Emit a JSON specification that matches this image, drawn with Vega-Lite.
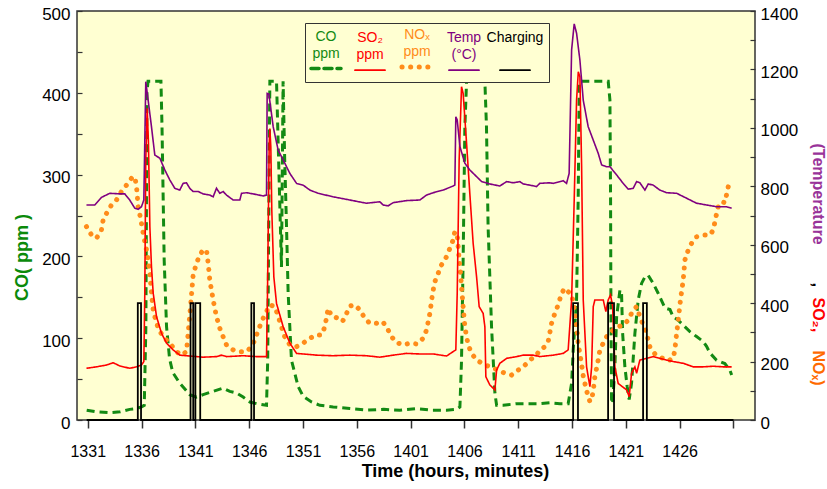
{
  "$schema": "https://vega.github.io/schema/vega-lite/v6.json",
  "width": 678,
  "height": 409,
  "autosize": {"type": "none"},
  "padding": {"left": 77, "top": 11, "right": 72, "bottom": 69},
  "background": "white",
  "config": {
    "view": {"fill": "#FFFFD2", "stroke": "#333333", "strokeWidth": 1.5},
    "axis": {"grid": false, "domain": false, "labelFont": "Liberation Sans Narrow, Liberation Sans", "labelFontSize": 17, "labelColor": "black", "tickColor": "#333333", "titleFont": "Liberation Sans Narrow, Liberation Sans", "titleFontWeight": "bold", "titleFontSize": 18, "labelFlush": false, "labelOverlap": false}
  },
  "datasets": {
    "rows": [
      {"s":"CO","t":0.9,"v":12},{"s":"CO","t":1.8,"v":10},{"s":"CO","t":3.0,"v":9},{"s":"CO","t":4.0,"v":10},{"s":"CO","t":4.9,"v":13},{"s":"CO","t":5.5,"v":14},{"s":"CO","t":6.0,"v":16},{"s":"CO","t":6.25,"v":18},{"s":"CO","t":6.4,"v":114},{"s":"CO","t":6.5,"v":400},{"s":"CO","t":6.6,"v":414},{"s":"CO","t":7.8,"v":414},{"s":"CO","t":7.9,"v":358},{"s":"CO","t":8.0,"v":277},{"s":"CO","t":8.1,"v":196},{"s":"CO","t":8.32,"v":114},{"s":"CO","t":8.6,"v":75},{"s":"CO","t":8.9,"v":58},{"s":"CO","t":9.55,"v":45},{"s":"CO","t":10.48,"v":31},{"s":"CO","t":11.1,"v":28},{"s":"CO","t":11.72,"v":31},{"s":"CO","t":12.65,"v":35},{"s":"CO","t":13.58,"v":39},{"s":"CO","t":14.2,"v":35},{"s":"CO","t":14.82,"v":33},{"s":"CO","t":15.44,"v":28},{"s":"CO","t":16.06,"v":22},{"s":"CO","t":16.68,"v":20},{"s":"CO","t":17.61,"v":18},{"s":"CO","t":17.72,"v":73},{"s":"CO","t":17.85,"v":300},{"s":"CO","t":17.92,"v":414},{"s":"CO","t":18.54,"v":414},{"s":"CO","t":19.0,"v":187},{"s":"CO","t":19.15,"v":414},{"s":"CO","t":19.3,"v":318},{"s":"CO","t":19.47,"v":236},{"s":"CO","t":19.62,"v":155},{"s":"CO","t":19.93,"v":73},{"s":"CO","t":20.55,"v":41},{"s":"CO","t":21.01,"v":29},{"s":"CO","t":21.79,"v":22},{"s":"CO","t":22.57,"v":18},{"s":"CO","t":23.8,"v":16},{"s":"CO","t":25.35,"v":14},{"s":"CO","t":26.9,"v":12},{"s":"CO","t":28.5,"v":13},{"s":"CO","t":30.0,"v":12},{"s":"CO","t":31.55,"v":14},{"s":"CO","t":33.0,"v":12},{"s":"CO","t":34.34,"v":12},{"s":"CO","t":35.27,"v":13},{"s":"CO","t":35.58,"v":16},{"s":"CO","t":35.73,"v":73},{"s":"CO","t":35.88,"v":196},{"s":"CO","t":36.04,"v":358},{"s":"CO","t":36.2,"v":414},{"s":"CO","t":37.9,"v":414},{"s":"CO","t":38.05,"v":358},{"s":"CO","t":38.2,"v":236},{"s":"CO","t":38.52,"v":114},{"s":"CO","t":38.83,"v":33},{"s":"CO","t":38.99,"v":18},{"s":"CO","t":39.6,"v":18},{"s":"CO","t":40.85,"v":20},{"s":"CO","t":42.39,"v":20},{"s":"CO","t":43.0,"v":20},{"s":"CO","t":43.94,"v":21},{"s":"CO","t":44.87,"v":20},{"s":"CO","t":45.64,"v":20},{"s":"CO","t":45.96,"v":45},{"s":"CO","t":46.11,"v":86},{"s":"CO","t":46.42,"v":147},{"s":"CO","t":46.57,"v":269},{"s":"CO","t":46.67,"v":412},{"s":"CO","t":46.73,"v":414},{"s":"CO","t":49.36,"v":414},{"s":"CO","t":49.52,"v":391},{"s":"CO","t":49.58,"v":269},{"s":"CO","t":49.61,"v":147},{"s":"CO","t":49.67,"v":25},{"s":"CO","t":49.77,"v":20},{"s":"CO","t":49.98,"v":65},{"s":"CO","t":50.14,"v":126},{"s":"CO","t":50.45,"v":159},{"s":"CO","t":50.6,"v":155},{"s":"CO","t":50.7,"v":106},{"s":"CO","t":50.91,"v":65},{"s":"CO","t":51.12,"v":41},{"s":"CO","t":51.31,"v":25},{"s":"CO","t":51.53,"v":45},{"s":"CO","t":51.84,"v":106},{"s":"CO","t":52.15,"v":147},{"s":"CO","t":52.46,"v":167},{"s":"CO","t":52.77,"v":175},{"s":"CO","t":53.07,"v":177},{"s":"CO","t":53.54,"v":167},{"s":"CO","t":54.0,"v":155},{"s":"CO","t":54.63,"v":137},{"s":"CO","t":55.1,"v":135},{"s":"CO","t":55.4,"v":126},{"s":"CO","t":55.86,"v":122},{"s":"CO","t":56.33,"v":116},{"s":"CO","t":56.95,"v":108},{"s":"CO","t":57.57,"v":102},{"s":"CO","t":58.19,"v":96},{"s":"CO","t":58.5,"v":90},{"s":"CO","t":58.81,"v":82},{"s":"CO","t":59.43,"v":73},{"s":"CO","t":60.2,"v":69},{"s":"CO","t":60.67,"v":61},{"s":"CO","t":60.83,"v":55},
      {"s":"SO2","t":0.88,"v":177},{"s":"SO2","t":1.81,"v":182},{"s":"SO2","t":2.74,"v":188},{"s":"SO2","t":3.36,"v":196},{"s":"SO2","t":3.98,"v":185},{"s":"SO2","t":4.9,"v":177},{"s":"SO2","t":5.53,"v":182},{"s":"SO2","t":5.99,"v":188},{"s":"SO2","t":6.21,"v":200},{"s":"SO2","t":6.3,"v":434},{"s":"SO2","t":6.39,"v":890},{"s":"SO2","t":6.52,"v":1067},{"s":"SO2","t":6.64,"v":947},{"s":"SO2","t":6.77,"v":662},{"s":"SO2","t":6.92,"v":525},{"s":"SO2","t":7.08,"v":434},{"s":"SO2","t":7.39,"v":354},{"s":"SO2","t":7.85,"v":297},{"s":"SO2","t":8.32,"v":263},{"s":"SO2","t":8.93,"v":240},{"s":"SO2","t":9.55,"v":222},{"s":"SO2","t":10.48,"v":219},{"s":"SO2","t":11.72,"v":215},{"s":"SO2","t":12.96,"v":217},{"s":"SO2","t":13.43,"v":222},{"s":"SO2","t":13.89,"v":217},{"s":"SO2","t":15.44,"v":220},{"s":"SO2","t":16.68,"v":217},{"s":"SO2","t":17.61,"v":217},{"s":"SO2","t":17.7,"v":434},{"s":"SO2","t":17.86,"v":947},{"s":"SO2","t":17.92,"v":998},{"s":"SO2","t":18.01,"v":936},{"s":"SO2","t":18.1,"v":719},{"s":"SO2","t":18.29,"v":490},{"s":"SO2","t":18.54,"v":399},{"s":"SO2","t":19.16,"v":319},{"s":"SO2","t":19.78,"v":263},{"s":"SO2","t":20.4,"v":228},{"s":"SO2","t":21.01,"v":226},{"s":"SO2","t":22.26,"v":222},{"s":"SO2","t":23.8,"v":220},{"s":"SO2","t":25.35,"v":222},{"s":"SO2","t":26.9,"v":220},{"s":"SO2","t":28.14,"v":215},{"s":"SO2","t":29.38,"v":222},{"s":"SO2","t":30.62,"v":228},{"s":"SO2","t":31.86,"v":226},{"s":"SO2","t":33.1,"v":226},{"s":"SO2","t":34.34,"v":219},{"s":"SO2","t":34.95,"v":234},{"s":"SO2","t":35.2,"v":240},{"s":"SO2","t":35.33,"v":434},{"s":"SO2","t":35.51,"v":890},{"s":"SO2","t":35.73,"v":1141},{"s":"SO2","t":35.88,"v":1118},{"s":"SO2","t":36.2,"v":947},{"s":"SO2","t":36.5,"v":776},{"s":"SO2","t":36.81,"v":605},{"s":"SO2","t":37.13,"v":490},{"s":"SO2","t":37.37,"v":388},{"s":"SO2","t":37.74,"v":365},{"s":"SO2","t":37.9,"v":319},{"s":"SO2","t":37.99,"v":148},{"s":"SO2","t":38.36,"v":120},{"s":"SO2","t":38.83,"v":103},{"s":"SO2","t":38.99,"v":171},{"s":"SO2","t":39.29,"v":194},{"s":"SO2","t":39.92,"v":211},{"s":"SO2","t":40.85,"v":217},{"s":"SO2","t":41.46,"v":222},{"s":"SO2","t":42.39,"v":222},{"s":"SO2","t":43.0,"v":217},{"s":"SO2","t":44.25,"v":222},{"s":"SO2","t":45.18,"v":228},{"s":"SO2","t":45.64,"v":240},{"s":"SO2","t":45.96,"v":411},{"s":"SO2","t":46.2,"v":753},{"s":"SO2","t":46.42,"v":1095},{"s":"SO2","t":46.58,"v":1192},{"s":"SO2","t":46.73,"v":1175},{"s":"SO2","t":46.89,"v":867},{"s":"SO2","t":47.04,"v":411},{"s":"SO2","t":47.35,"v":182},{"s":"SO2","t":47.66,"v":114},{"s":"SO2","t":47.82,"v":182},{"s":"SO2","t":47.97,"v":388},{"s":"SO2","t":48.12,"v":411},{"s":"SO2","t":48.9,"v":411},{"s":"SO2","t":49.14,"v":371},{"s":"SO2","t":49.36,"v":411},{"s":"SO2","t":49.58,"v":428},{"s":"SO2","t":49.77,"v":388},{"s":"SO2","t":49.98,"v":182},{"s":"SO2","t":50.29,"v":125},{"s":"SO2","t":51.07,"v":103},{"s":"SO2","t":51.31,"v":80},{"s":"SO2","t":51.53,"v":160},{"s":"SO2","t":51.84,"v":182},{"s":"SO2","t":52.0,"v":160},{"s":"SO2","t":52.3,"v":205},{"s":"SO2","t":52.93,"v":211},{"s":"SO2","t":53.54,"v":217},{"s":"SO2","t":54.16,"v":211},{"s":"SO2","t":54.79,"v":205},{"s":"SO2","t":55.41,"v":200},{"s":"SO2","t":56.34,"v":194},{"s":"SO2","t":57.26,"v":182},{"s":"SO2","t":58.19,"v":182},{"s":"SO2","t":59.12,"v":184},{"s":"SO2","t":60.05,"v":182},{"s":"SO2","t":60.83,"v":182},
      {"s":"NOx","t":0.88,"v":662},{"s":"NOx","t":1.35,"v":633},{"s":"NOx","t":1.81,"v":622},{"s":"NOx","t":2.27,"v":650},{"s":"NOx","t":2.43,"v":685},{"s":"NOx","t":2.74,"v":707},{"s":"NOx","t":3.2,"v":736},{"s":"NOx","t":3.67,"v":753},{"s":"NOx","t":4.13,"v":782},{"s":"NOx","t":4.6,"v":804},{"s":"NOx","t":5.06,"v":827},{"s":"NOx","t":5.37,"v":833},{"s":"NOx","t":5.53,"v":799},{"s":"NOx","t":5.68,"v":730},{"s":"NOx","t":5.84,"v":702},{"s":"NOx","t":5.99,"v":673},{"s":"NOx","t":6.15,"v":639},{"s":"NOx","t":6.3,"v":610},{"s":"NOx","t":6.52,"v":571},{"s":"NOx","t":6.77,"v":502},{"s":"NOx","t":6.92,"v":434},{"s":"NOx","t":7.08,"v":377},{"s":"NOx","t":7.23,"v":354},{"s":"NOx","t":7.54,"v":314},{"s":"NOx","t":8.0,"v":285},{"s":"NOx","t":8.62,"v":263},{"s":"NOx","t":9.24,"v":234},{"s":"NOx","t":9.71,"v":222},{"s":"NOx","t":10.17,"v":234},{"s":"NOx","t":10.33,"v":297},{"s":"NOx","t":10.55,"v":388},{"s":"NOx","t":10.79,"v":496},{"s":"NOx","t":11.1,"v":536},{"s":"NOx","t":11.41,"v":565},{"s":"NOx","t":11.72,"v":582},{"s":"NOx","t":12.03,"v":582},{"s":"NOx","t":12.19,"v":536},{"s":"NOx","t":12.34,"v":479},{"s":"NOx","t":12.65,"v":411},{"s":"NOx","t":12.96,"v":354},{"s":"NOx","t":13.27,"v":314},{"s":"NOx","t":13.58,"v":285},{"s":"NOx","t":13.89,"v":257},{"s":"NOx","t":14.51,"v":240},{"s":"NOx","t":15.13,"v":234},{"s":"NOx","t":15.75,"v":234},{"s":"NOx","t":16.22,"v":251},{"s":"NOx","t":16.53,"v":274},{"s":"NOx","t":16.84,"v":308},{"s":"NOx","t":17.3,"v":348},{"s":"NOx","t":17.92,"v":394},{"s":"NOx","t":18.39,"v":388},{"s":"NOx","t":18.7,"v":354},{"s":"NOx","t":19.0,"v":319},{"s":"NOx","t":19.3,"v":285},{"s":"NOx","t":19.78,"v":257},{"s":"NOx","t":20.4,"v":251},{"s":"NOx","t":21.01,"v":263},{"s":"NOx","t":21.64,"v":280},{"s":"NOx","t":22.26,"v":291},{"s":"NOx","t":22.73,"v":291},{"s":"NOx","t":23.03,"v":319},{"s":"NOx","t":23.34,"v":382},{"s":"NOx","t":23.65,"v":356},{"s":"NOx","t":24.27,"v":348},{"s":"NOx","t":24.67,"v":337},{"s":"NOx","t":25.05,"v":365},{"s":"NOx","t":25.35,"v":390},{"s":"NOx","t":25.82,"v":394},{"s":"NOx","t":26.28,"v":377},{"s":"NOx","t":26.75,"v":348},{"s":"NOx","t":27.21,"v":331},{"s":"NOx","t":27.83,"v":331},{"s":"NOx","t":28.39,"v":337},{"s":"NOx","t":28.76,"v":319},{"s":"NOx","t":29.23,"v":285},{"s":"NOx","t":29.69,"v":265},{"s":"NOx","t":30.31,"v":257},{"s":"NOx","t":30.93,"v":263},{"s":"NOx","t":31.61,"v":260},{"s":"NOx","t":32.17,"v":280},{"s":"NOx","t":32.48,"v":308},{"s":"NOx","t":32.79,"v":365},{"s":"NOx","t":33.04,"v":434},{"s":"NOx","t":33.25,"v":473},{"s":"NOx","t":33.56,"v":502},{"s":"NOx","t":33.87,"v":531},{"s":"NOx","t":34.34,"v":559},{"s":"NOx","t":34.65,"v":588},{"s":"NOx","t":34.95,"v":616},{"s":"NOx","t":35.11,"v":645},{"s":"NOx","t":35.33,"v":633},{"s":"NOx","t":35.42,"v":593},{"s":"NOx","t":35.51,"v":548},{"s":"NOx","t":35.64,"v":502},{"s":"NOx","t":35.73,"v":456},{"s":"NOx","t":35.88,"v":388},{"s":"NOx","t":36.04,"v":319},{"s":"NOx","t":36.2,"v":285},{"s":"NOx","t":36.35,"v":257},{"s":"NOx","t":36.66,"v":228},{"s":"NOx","t":37.13,"v":205},{"s":"NOx","t":37.74,"v":192},{"s":"NOx","t":38.36,"v":182},{"s":"NOx","t":38.99,"v":173},{"s":"NOx","t":39.76,"v":160},{"s":"NOx","t":40.38,"v":154},{"s":"NOx","t":40.99,"v":171},{"s":"NOx","t":41.46,"v":182},{"s":"NOx","t":42.08,"v":205},{"s":"NOx","t":42.7,"v":222},{"s":"NOx","t":43.0,"v":240},{"s":"NOx","t":43.48,"v":251},{"s":"NOx","t":43.79,"v":270},{"s":"NOx","t":44.1,"v":331},{"s":"NOx","t":44.4,"v":365},{"s":"NOx","t":44.71,"v":394},{"s":"NOx","t":45.03,"v":434},{"s":"NOx","t":45.33,"v":451},{"s":"NOx","t":45.64,"v":439},{"s":"NOx","t":45.96,"v":430},{"s":"NOx","t":46.26,"v":370},{"s":"NOx","t":46.42,"v":320},{"s":"NOx","t":46.58,"v":260},{"s":"NOx","t":46.89,"v":190},{"s":"NOx","t":47.04,"v":150},{"s":"NOx","t":47.35,"v":100},{"s":"NOx","t":47.66,"v":63},{"s":"NOx","t":47.82,"v":70},{"s":"NOx","t":47.97,"v":100},{"s":"NOx","t":48.12,"v":148},{"s":"NOx","t":48.43,"v":205},{"s":"NOx","t":48.59,"v":240},{"s":"NOx","t":48.9,"v":263},{"s":"NOx","t":49.21,"v":285},{"s":"NOx","t":49.52,"v":297},{"s":"NOx","t":49.82,"v":308},{"s":"NOx","t":50.29,"v":319},{"s":"NOx","t":50.75,"v":325},{"s":"NOx","t":51.22,"v":342},{"s":"NOx","t":51.68,"v":377},{"s":"NOx","t":52.0,"v":388},{"s":"NOx","t":52.3,"v":354},{"s":"NOx","t":52.92,"v":297},{"s":"NOx","t":53.23,"v":251},{"s":"NOx","t":53.7,"v":226},{"s":"NOx","t":54.32,"v":213},{"s":"NOx","t":54.94,"v":203},{"s":"NOx","t":55.4,"v":211},{"s":"NOx","t":55.56,"v":242},{"s":"NOx","t":55.72,"v":297},{"s":"NOx","t":55.87,"v":342},{"s":"NOx","t":56.02,"v":394},{"s":"NOx","t":56.18,"v":439},{"s":"NOx","t":56.33,"v":479},{"s":"NOx","t":56.49,"v":548},{"s":"NOx","t":56.8,"v":582},{"s":"NOx","t":57.11,"v":605},{"s":"NOx","t":57.57,"v":627},{"s":"NOx","t":58.19,"v":633},{"s":"NOx","t":58.81,"v":633},{"s":"NOx","t":59.12,"v":650},{"s":"NOx","t":59.37,"v":696},{"s":"NOx","t":59.58,"v":730},{"s":"NOx","t":59.9,"v":747},{"s":"NOx","t":60.2,"v":744},{"s":"NOx","t":60.42,"v":782},{"s":"NOx","t":60.61,"v":816},
      {"s":"Temp","t":0.88,"v":736},{"s":"Temp","t":1.65,"v":736},{"s":"Temp","t":2.27,"v":762},{"s":"Temp","t":3.05,"v":776},{"s":"Temp","t":3.98,"v":774},{"s":"Temp","t":4.44,"v":774},{"s":"Temp","t":4.9,"v":753},{"s":"Temp","t":5.37,"v":725},{"s":"Temp","t":5.68,"v":721},{"s":"Temp","t":5.99,"v":730},{"s":"Temp","t":6.21,"v":753},{"s":"Temp","t":6.39,"v":1158},{"s":"Temp","t":6.61,"v":1095},{"s":"Temp","t":6.92,"v":1004},{"s":"Temp","t":7.23,"v":907},{"s":"Temp","t":7.7,"v":896},{"s":"Temp","t":8.16,"v":856},{"s":"Temp","t":8.62,"v":822},{"s":"Temp","t":9.09,"v":793},{"s":"Temp","t":9.55,"v":787},{"s":"Temp","t":9.86,"v":810},{"s":"Temp","t":10.17,"v":812},{"s":"Temp","t":10.48,"v":793},{"s":"Temp","t":10.79,"v":782},{"s":"Temp","t":11.26,"v":782},{"s":"Temp","t":11.72,"v":774},{"s":"Temp","t":12.34,"v":770},{"s":"Temp","t":12.65,"v":764},{"s":"Temp","t":12.96,"v":793},{"s":"Temp","t":13.27,"v":776},{"s":"Temp","t":13.58,"v":782},{"s":"Temp","t":13.89,"v":770},{"s":"Temp","t":14.51,"v":753},{"s":"Temp","t":15.13,"v":753},{"s":"Temp","t":15.29,"v":776},{"s":"Temp","t":15.75,"v":778},{"s":"Temp","t":16.37,"v":774},{"s":"Temp","t":17.3,"v":767},{"s":"Temp","t":17.61,"v":770},{"s":"Temp","t":17.67,"v":1118},{"s":"Temp","t":17.83,"v":1116},{"s":"Temp","t":18.23,"v":1004},{"s":"Temp","t":18.69,"v":924},{"s":"Temp","t":19.16,"v":890},{"s":"Temp","t":19.78,"v":844},{"s":"Temp","t":20.4,"v":810},{"s":"Temp","t":21.01,"v":804},{"s":"Temp","t":21.64,"v":787},{"s":"Temp","t":22.41,"v":776},{"s":"Temp","t":23.8,"v":764},{"s":"Temp","t":25.35,"v":753},{"s":"Temp","t":26.9,"v":742},{"s":"Temp","t":28.14,"v":747},{"s":"Temp","t":28.45,"v":736},{"s":"Temp","t":28.91,"v":733},{"s":"Temp","t":29.38,"v":744},{"s":"Temp","t":30.62,"v":751},{"s":"Temp","t":31.86,"v":753},{"s":"Temp","t":32.48,"v":770},{"s":"Temp","t":33.1,"v":778},{"s":"Temp","t":34.02,"v":787},{"s":"Temp","t":34.95,"v":801},{"s":"Temp","t":35.11,"v":804},{"s":"Temp","t":35.2,"v":1038},{"s":"Temp","t":35.33,"v":1027},{"s":"Temp","t":35.58,"v":936},{"s":"Temp","t":36.04,"v":879},{"s":"Temp","t":36.5,"v":856},{"s":"Temp","t":37.13,"v":833},{"s":"Temp","t":37.6,"v":816},{"s":"Temp","t":38.36,"v":808},{"s":"Temp","t":39.29,"v":801},{"s":"Temp","t":39.92,"v":816},{"s":"Temp","t":40.53,"v":812},{"s":"Temp","t":41.15,"v":816},{"s":"Temp","t":41.46,"v":808},{"s":"Temp","t":42.08,"v":804},{"s":"Temp","t":42.7,"v":799},{"s":"Temp","t":43.0,"v":810},{"s":"Temp","t":43.94,"v":812},{"s":"Temp","t":44.25,"v":810},{"s":"Temp","t":45.18,"v":819},{"s":"Temp","t":45.49,"v":810},{"s":"Temp","t":45.73,"v":844},{"s":"Temp","t":45.96,"v":1267},{"s":"Temp","t":46.2,"v":1356},{"s":"Temp","t":46.42,"v":1324},{"s":"Temp","t":46.73,"v":1232},{"s":"Temp","t":47.04,"v":1095},{"s":"Temp","t":47.5,"v":1004},{"s":"Temp","t":47.97,"v":958},{"s":"Temp","t":48.43,"v":913},{"s":"Temp","t":48.75,"v":873},{"s":"Temp","t":49.21,"v":867},{"s":"Temp","t":49.52,"v":867},{"s":"Temp","t":50.14,"v":839},{"s":"Temp","t":50.75,"v":810},{"s":"Temp","t":51.22,"v":790},{"s":"Temp","t":51.68,"v":793},{"s":"Temp","t":52.0,"v":816},{"s":"Temp","t":52.3,"v":812},{"s":"Temp","t":52.77,"v":787},{"s":"Temp","t":53.08,"v":808},{"s":"Temp","t":53.54,"v":804},{"s":"Temp","t":54.16,"v":787},{"s":"Temp","t":54.79,"v":778},{"s":"Temp","t":55.72,"v":776},{"s":"Temp","t":56.65,"v":759},{"s":"Temp","t":57.57,"v":742},{"s":"Temp","t":58.5,"v":736},{"s":"Temp","t":59.43,"v":730},{"s":"Temp","t":60.36,"v":730},{"s":"Temp","t":60.83,"v":725},
      {"s":"Charging","t":0.9,"v":0},{"s":"Charging","t":5.65,"v":400},{"s":"Charging","t":5.95,"v":0},{"s":"Charging","t":10.55,"v":400},{"s":"Charging","t":10.8,"v":0},{"s":"Charging","t":11.0,"v":400},{"s":"Charging","t":11.45,"v":0},{"s":"Charging","t":16.2,"v":400},{"s":"Charging","t":16.45,"v":0},{"s":"Charging","t":46.1,"v":400},{"s":"Charging","t":46.55,"v":0},{"s":"Charging","t":49.35,"v":400},{"s":"Charging","t":49.9,"v":0},{"s":"Charging","t":52.6,"v":400},{"s":"Charging","t":52.95,"v":0},{"s":"Charging","t":61,"v":0}
    ]
  },
  "data": {"name": "rows"},
  "encoding": {
    "x": {"field": "t", "type": "quantitative", "scale": {"domain": [0, 63], "nice": false, "zero": false},
      "axis": {"values": [1,6,11,16,21,26,31,36,41,46,51,56,61], "labelExpr": "datum.value == 61 ? '' : (13 + floor((datum.value + 30) / 60)) + ((datum.value + 30) % 60 < 10 ? '0' : '') + ((datum.value + 30) % 60)", "labelFontSize": 16, "tickSize": 8, "tickWidth": 1.5, "labelPadding": 15, "title": "Time (hours, minutes)", "titleX": 378, "titleY": 51, "titleAlign": "center", "titleBaseline": "middle", "titleColor": "black"}},
    "color": {"field": "s", "type": "nominal", "scale": {"domain": ["CO","SO2","NOx","Temp","Charging"], "range": ["#138A13","#FF0000","#FF8C1A","#800080","#000000"]},
      "legend": {"orient": "none", "legendX": 228, "legendY": 12, "direction": "horizontal", "columns": 5, "title": null, "fillColor": "#FFFFD2", "strokeColor": "#333333", "padding": 5, "columnPadding": 3, "symbolType": "stroke", "symbolSize": 900, "labelFont": "Liberation Sans Narrow, Liberation Sans", "labelFontSize": 14,
        "labelExpr": "datum.value == 'CO' ? ['CO','ppm'] : datum.value == 'SO2' ? ['SO₂','ppm'] : datum.value == 'NOx' ? ['NOₓ','ppm'] : datum.value == 'Temp' ? ['Temp','(°C)'] : 'Charging'",
        "encode": {
          "symbols": {"update": {"strokeCap": {"value": "round"}, "strokeWidth": {"signal": "datum.value == 'CO' ? 3.5 : datum.value == 'NOx' ? 5 : 1.8"}, "x": {"value": 16}, "y": {"value": 39}}},
          "labels": {"update": {"fill": {"scale": "color", "field": "value"}, "x": {"value": 16}, "y": {"value": 0}, "align": {"value": "center"}, "baseline": {"value": "top"}, "lineHeight": {"value": 17}}}
        }}},
    "strokeDash": {"field": "s", "type": "nominal", "scale": {"domain": ["CO","SO2","NOx","Temp","Charging"], "range": [[8,5],[1,0],[0.1,8.5],[1,0],[1,0]]}, "legend": {"title": null}}
  },
  "layer": [
    {"transform": [{"filter": "datum.s == 'CO'"}], "mark": {"type": "line", "strokeWidth": 3},
     "encoding": {"y": {"field": "v", "type": "quantitative", "scale": {"domain": [0, 500], "nice": false},
       "axis": {"orient": "left", "values": [0,50,100,150,200,250,300,350,400,450,500], "labelExpr": "datum.value % 100 == 0 ? '' + datum.value : ''", "tickSize": -5, "tickWidth": 1.2, "labelPadding": 12, "labelOffset": 3, "title": "CO( ppm )", "titleColor": "#0A8A0A", "titleX": -55, "titleY": 246, "titleAngle": -90, "titleAlign": "center", "titleBaseline": "middle"}}}},
    {"transform": [{"filter": "datum.s == 'NOx'"}], "mark": {"type": "line", "strokeCap": "round", "strokeWidth": 5},
     "encoding": {"y": {"field": "v", "type": "quantitative", "scale": {"domain": [0, 1400], "nice": false},
       "axis": {"orient": "right", "labels": false, "ticks": false, "title": "NOₓ)", "titleColor": "#FF6A00", "titleFontSize": 16, "titleX": 62, "titleY": 339, "titleAngle": 90, "titleAlign": "left", "titleBaseline": "middle"}}}},
    {"transform": [{"filter": "datum.s == 'SO2'"}], "mark": {"type": "line", "strokeWidth": 1.6},
     "encoding": {"y": {"field": "v", "type": "quantitative", "scale": {"domain": [0, 1400], "nice": false},
       "axis": {"orient": "right", "labels": false, "ticks": false, "title": "SO₂,", "titleColor": "#FF0000", "titleFontSize": 16, "titleX": 62, "titleY": 286, "titleAngle": 90, "titleAlign": "left", "titleBaseline": "middle"}}}},
    {"transform": [{"filter": "datum.s == 'Temp'"}], "mark": {"type": "line", "strokeWidth": 1.6},
     "encoding": {"y": {"field": "v", "type": "quantitative", "scale": {"domain": [0, 1400], "nice": false},
       "axis": {"orient": "right", "values": [0,100,200,300,400,500,600,700,800,900,1000,1100,1200,1300,1400], "labelExpr": "datum.value % 200 == 0 ? '' + datum.value : ''", "tickSize": -5, "tickWidth": 1.2, "labelPadding": 10, "labelOffset": 3, "title": "(Temperature", "titleColor": "#993399", "titleFontSize": 16, "titleX": 62, "titleY": 132, "titleAngle": 90, "titleAlign": "left", "titleBaseline": "middle"}}}},
    {"transform": [{"filter": "datum.s == 'Charging'"}], "mark": {"type": "line", "interpolate": "step-after", "strokeWidth": 1.8},
     "encoding": {"y": {"field": "v", "type": "quantitative", "scale": {"domain": [0, 1400], "nice": false},
       "axis": {"orient": "right", "labels": false, "ticks": false, "title": ",", "titleColor": "black", "titleFontSize": 16, "titleX": 62, "titleY": 271, "titleAngle": 90, "titleAlign": "left", "titleBaseline": "middle"}}}}
  ],
  "resolve": {"scale": {"y": "independent"}, "axis": {"y": "independent"}}
}
